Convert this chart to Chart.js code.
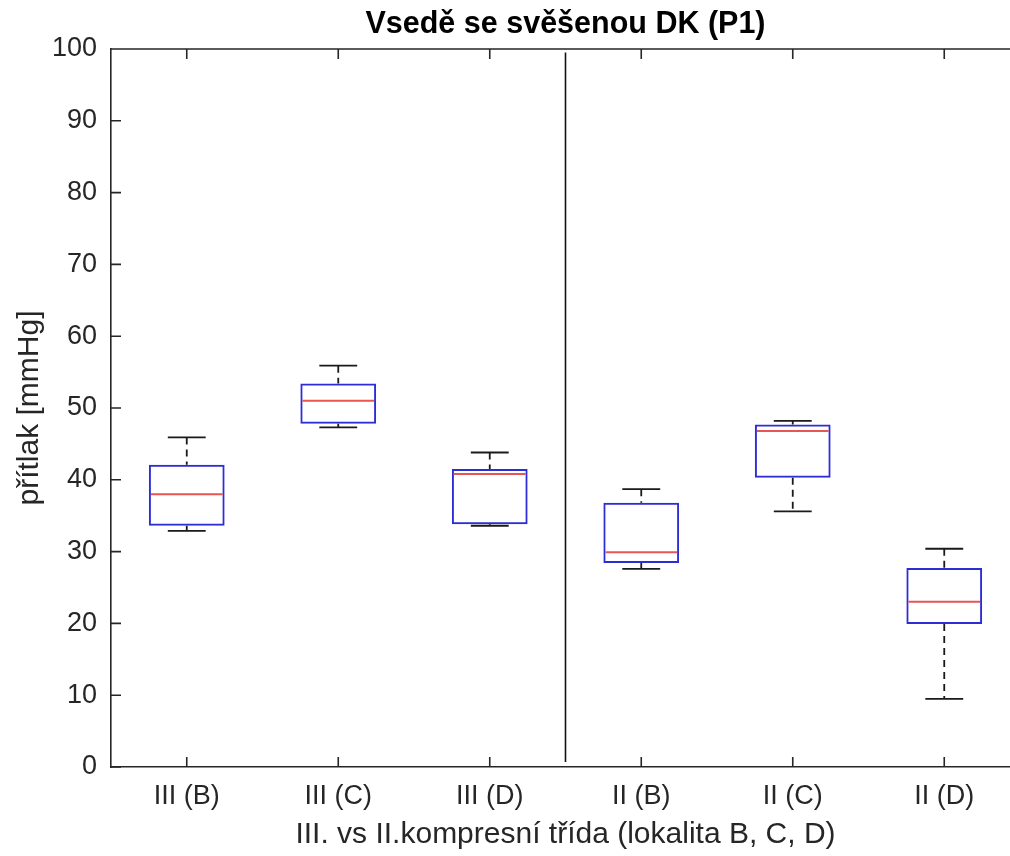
<!DOCTYPE html>
<html lang="cs">
<head>
    <meta charset="UTF-8">
    <title>Vsedě se svěšenou DK (P1)</title>
    <style>
        html, body {
            margin: 0;
            padding: 0;
            background: #fff;
            overflow: hidden;
        }
        .chart-wrap {
            position: relative;
            width: 1030px;
            height: 856px;
        }
    </style>
</head>
<body>
    <div class="chart-wrap">
        <canvas id="boxChart"></canvas>
    </div>
    <script src="https://cdn.jsdelivr.net/npm/chart.js"></script>
    <script>
    // Box plot values (mmHg)
    const categories  = ['III (B)', 'III (C)', 'III (D)', 'II (B)', 'II (C)', 'II (D)'];
    const whiskerLow  = [32.9, 47.3, 33.6, 27.6, 35.6,  9.5];
    const q1          = [33.6, 47.8, 33.8, 28.4, 40.3, 19.9];
    const median      = [38.0, 51.0, 40.8, 29.9, 46.8, 23.0];
    const q3          = [42.1, 53.4, 41.5, 36.8, 47.7, 27.7];
    const whiskerHigh = [45.9, 55.9, 43.8, 38.7, 48.2, 30.4];
    const yTicks      = [0, 10, 20, 30, 40, 50, 60, 70, 80, 90, 100];

    // vertical divider between class III and class II groups (category index units)
    const dividerX   = 2.5;
    const dividerY   = [0.7, 99.5];

    const FONT = "'Liberation Sans', Arial, Helvetica, sans-serif";
    const AXIS = '#262626';
    const BOX_BLUE = 'rgb(45,45,215)';
    const MED_RED = 'rgb(232,85,85)';

    // whiskers, medians, divider, inward ticks and top frame line
    const boxExtras = {
        id: 'boxExtras',
        afterDatasetsDraw(chart) {
            const ctx = chart.ctx;
            const x = chart.scales.x, y = chart.scales.y;
            const area = chart.chartArea;
            const unit = x.getPixelForValue(1) - x.getPixelForValue(0);
            const boxHalf = unit * 0.25;
            const capHalf = unit * 0.125;

            ctx.save();
            categories.forEach((c, i) => {
                const cx = x.getPixelForValue(i);
                // whisker stems, dashed
                ctx.strokeStyle = '#1a1a1a';
                ctx.lineWidth = 1.8;
                ctx.setLineDash([7, 5]);
                ctx.beginPath();
                ctx.moveTo(cx, y.getPixelForValue(whiskerHigh[i]));
                ctx.lineTo(cx, y.getPixelForValue(q3[i]));
                ctx.moveTo(cx, y.getPixelForValue(q1[i]));
                ctx.lineTo(cx, y.getPixelForValue(whiskerLow[i]));
                ctx.stroke();
                ctx.setLineDash([]);
                // caps
                ctx.beginPath();
                [whiskerHigh[i], whiskerLow[i]].forEach(v => {
                    const py = y.getPixelForValue(v);
                    ctx.moveTo(cx - capHalf, py);
                    ctx.lineTo(cx + capHalf, py);
                });
                ctx.stroke();
                // median
                ctx.strokeStyle = MED_RED;
                ctx.lineWidth = 2;
                ctx.beginPath();
                const my = y.getPixelForValue(median[i]);
                ctx.moveTo(cx - boxHalf + 2, my);
                ctx.lineTo(cx + boxHalf - 2, my);
                ctx.stroke();
            });

            // divider line
            ctx.strokeStyle = '#111';
            ctx.lineWidth = 1.6;
            ctx.beginPath();
            const dx = x.getPixelForValue(dividerX);
            ctx.moveTo(dx, y.getPixelForValue(dividerY[0]));
            ctx.lineTo(dx, y.getPixelForValue(dividerY[1]));
            ctx.stroke();

            // frame top + inward ticks
            ctx.strokeStyle = AXIS;
            ctx.lineWidth = 1.6;
            ctx.beginPath();
            ctx.moveTo(area.left, area.top);
            ctx.lineTo(area.right, area.top);
            ctx.moveTo(area.right, area.top);
            ctx.lineTo(area.right, area.bottom);
            yTicks.forEach(v => {
                const py = y.getPixelForValue(v);
                ctx.moveTo(area.left, py);
                ctx.lineTo(area.left + 10, py);
                ctx.moveTo(area.right, py);
                ctx.lineTo(area.right - 10, py);
            });
            categories.forEach((c, i) => {
                const px = x.getPixelForValue(i);
                ctx.moveTo(px, area.bottom);
                ctx.lineTo(px, area.bottom - 10);
                ctx.moveTo(px, area.top);
                ctx.lineTo(px, area.top + 10);
            });
            ctx.stroke();
            ctx.restore();
        }
    };

    const ctx = document.getElementById('boxChart').getContext('2d');
    const boxChart = new Chart(ctx, {
        type: 'bar',
        data: {
            labels: categories,
            datasets: [{
                data: categories.map((c, i) => [q1[i], q3[i]]),
                backgroundColor: 'rgba(255,255,255,0)',
                borderColor: BOX_BLUE,
                borderWidth: 2,
                borderSkipped: false,
                barPercentage: 0.5,
                categoryPercentage: 1.0
            }]
        },
        options: {
            responsive: true,
            maintainAspectRatio: false,
            animation: false,
            layout: { padding: { left: 0, top: 0, right: 10, bottom: 0 } },
            plugins: {
                legend: { display: false },
                tooltip: { enabled: false },
                title: {
                    display: true,
                    text: 'Vsedě se svěšenou DK (P1)',
                    color: '#000',
                    fullSize: false,
                    font: { family: FONT, size: 30.5, weight: 'bold' },
                    padding: { top: 6, bottom: 6.4 }
                }
            },
            scales: {
                x: {
                    grid: { drawOnChartArea: false, drawTicks: false },
                    border: { display: true, color: AXIS, width: 1.6 },
                    ticks: {
                        color: AXIS,
                        padding: 13,
                        font: { family: FONT, size: 27 }
                    },
                    title: {
                        display: true,
                        text: 'III. vs II.kompresní třída (lokalita B, C, D)',
                        color: AXIS,
                        font: { family: FONT, size: 30 },
                        padding: { top: 0, bottom: 3 }
                    },
                    afterFit(scale) { scale.height = 89; }
                },
                y: {
                    min: 0,
                    max: 100,
                    grid: { drawOnChartArea: false, drawTicks: false },
                    border: { display: true, color: AXIS, width: 1.6 },
                    ticks: {
                        stepSize: 10,
                        color: AXIS,
                        padding: 14,
                        font: { family: FONT, size: 27 }
                    },
                    title: {
                        display: true,
                        text: 'přítlak [mmHg]',
                        color: AXIS,
                        font: { family: FONT, size: 30 },
                        padding: { top: 12, bottom: 0 }
                    },
                    afterFit(scale) { scale.width = 111; }
                }
            }
        },
        plugins: [boxExtras]
    });
    </script>
</body>
</html>
